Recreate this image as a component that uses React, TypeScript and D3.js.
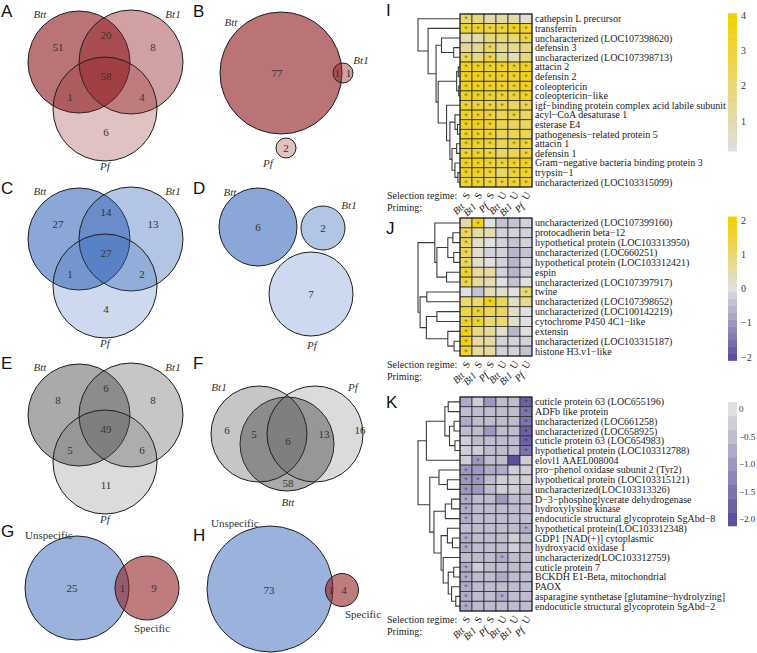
import React from "react";
import * as d3 from "d3";

type TreeNode = number | [number, TreeNode, TreeNode];

// ---------------- DATA ----------------
const primingLabels = ["Btt", "Bt1", "Pf", "Btt", "Bt1", "Pf"];
const regimeLabels = ["S", "S", "S", "U", "U", "U"];

const genesI = [
  "cathepsin L precursor",
  "transferrin",
  "uncharacterized (LOC107398620)",
  "defensin 3",
  "uncharacterized (LOC107398713)",
  "attacin 2",
  "defensin 2",
  "coleoptericin",
  "coleoptericin−like",
  "igf−binding protein complex acid labile subunit",
  "acyl−CoA desaturase 1",
  "esterase E4",
  "pathogenesis−related protein 5",
  "attacin 1",
  "defensin 1",
  "Gram−negative bacteria binding protein 3",
  "trypsin−1",
  "uncharacterized (LOC103315099)",
];
const valuesI: number[][] = [
  [2.2, 1.8, 1.0, 1.2, 1.0, 0.3],
  [3.2, 3.2, 3.0, 3.0, 3.6, 3.3],
  [1.0, 1.0, 1.8, 2.0, 2.0, 3.0],
  [1.5, 1.5, 2.5, 1.5, 1.5, 1.8],
  [2.5, 1.8, 2.8, 1.5, 0.8, 1.8],
  [3.4, 3.6, 3.3, 3.4, 3.2, 3.6],
  [3.5, 3.6, 3.2, 3.3, 3.2, 3.6],
  [3.5, 3.6, 3.2, 3.3, 3.2, 3.7],
  [3.4, 3.5, 3.1, 3.2, 3.0, 3.6],
  [3.2, 3.0, 2.8, 2.8, 2.4, 2.6],
  [3.3, 3.3, 3.0, 2.5, 2.9, 2.4],
  [3.4, 3.5, 3.2, 2.6, 2.5, 2.4],
  [3.3, 3.4, 3.1, 2.6, 2.5, 2.5],
  [3.4, 3.4, 3.1, 2.5, 3.0, 3.2],
  [3.3, 3.4, 3.0, 2.4, 2.6, 3.0],
  [3.4, 3.6, 3.2, 3.0, 3.2, 3.5],
  [3.2, 3.4, 3.0, 2.3, 3.0, 3.2],
  [3.3, 3.4, 3.0, 3.0, 3.1, 3.3],
];
const sigI = [
  "100000", "111111", "000001", "001000", "101000", "111111", "111111", "111111", "111111",
  "111101", "111010", "111000", "111000", "111011", "111001", "111111", "111011", "111111",
];
const treeI: TreeNode = [1.0, 0, [0.76, 1, [0.57, [0.44, 2, [0.15, 3, 4]],
  [0.52, [0.08, [0.04, 5, 6], [0.03, 7, 8]],
    [0.32, 9, [0.24, [0.12, 10, [0.06, 11, 12]], [0.19, [0.08, 13, 14], [0.12, 15, [0.05, 16, 17]]]]]]]]];

const genesJ = [
  "uncharacterized (LOC107399160)",
  "protocadherin beta−12",
  "hypothetical protein (LOC103313950)",
  "uncharacterized (LOC660251)",
  "hypothetical protein (LOC103312421)",
  "espin",
  "uncharacterized (LOC107397917)",
  "twine",
  "uncharacterized (LOC107398652)",
  "uncharacterized (LOC100142219)",
  "cytochrome P450 4C1−like",
  "extensin",
  "uncharacterized (LOC103315187)",
  "histone H3.v1−like",
];
const valuesJ: number[][] = [
  [0.5, 1.8, 0.0, -0.4, -0.5, -0.2],
  [1.2, 0.5, 0.4, -0.3, -0.3, -0.2],
  [1.2, 0.3, 0.0, -0.3, -0.4, -0.3],
  [1.2, 0.2, -0.3, -0.2, -0.6, -0.4],
  [1.2, 0.1, 0.0, -0.3, -0.7, -0.3],
  [1.5, 0.6, 0.6, -0.2, -0.6, -0.2],
  [1.4, 0.6, 0.4, 0.0, -0.5, 0.0],
  [0.0, -0.4, 0.4, 0.2, 0.0, 1.0],
  [1.0, 1.0, 1.8, 1.2, 0.3, 0.8],
  [1.3, 1.6, 1.2, 1.2, 0.2, 0.0],
  [1.5, 1.5, 1.0, 1.0, 0.3, 0.0],
  [1.7, 0.8, 0.6, 0.3, -0.6, -0.1],
  [1.7, 0.7, 0.5, -0.3, -0.3, -0.3],
  [1.6, 0.7, 0.7, -0.2, -0.2, -0.4],
];
const sigJ = [
  "010000", "100000", "100000", "100000", "100000", "100000", "100000",
  "000001", "001000", "010000", "110000", "100000", "100000", "100000",
];
const treeJ: TreeNode = [1.0,
  [0.6, 0, [0.55, [0.29, [0.17, 1, 2], [0.15, 3, 4]], [0.32, 5, 6]]],
  [0.95, [0.79, 7, 8], [0.8, [0.55, 9, 10], [0.29, 11, [0.14, 12, 13]]]]];

const genesK = [
  "cuticle protein 63 (LOC655196)",
  "ADFb like protein",
  "uncharacterized (LOC661258)",
  "uncharacterized (LOC658925)",
  "cuticle protein 63 (LOC654983)",
  "hypothetical protein (LOC103312788)",
  "elovl1 AAEL008004",
  "pro−phenol oxidase subunit 2 (Tyr2)",
  "hypothetical protein (LOC103315121)",
  "uncharacterized(LOC103313326)",
  "D−3−phosphoglycerate dehydrogenase",
  "hydroxylysine kinase",
  "endocuticle structural glycoprotein SgAbd−8",
  "hypothetical protein(LOC103312348)",
  "GDP1 [NAD(+)] cytoplasmic",
  "hydroxyacid oxidase 1",
  "uncharacterized(LOC103312759)",
  "cuticle protein 7",
  "BCKDH E1-Beta, mitochondrial",
  "PAOX",
  "asparagine synthetase [glutamine−hydrolyzing]",
  "endocuticle structural glycoprotein SgAbd−2",
];
const valuesK: number[][] = [
  [-0.8, -0.2, -0.9, -0.6, -0.5, -1.8],
  [-0.6, -0.5, -0.6, -0.4, -0.5, -1.6],
  [-0.8, -0.4, -0.5, -0.6, -0.6, -1.6],
  [-0.4, -0.4, -0.9, -0.5, -0.6, -1.7],
  [-0.3, -0.4, -0.5, -0.4, -0.5, -1.7],
  [-0.3, -0.2, -0.6, -0.4, -0.4, -1.5],
  [-0.3, -0.9, -0.6, -0.6, -1.9, -0.2],
  [-0.9, -1.0, -0.7, -0.8, -0.2, -0.3],
  [-1.0, -1.0, -0.6, -0.3, -0.2, -0.3],
  [-1.0, -1.1, -0.6, -0.3, -0.2, -0.4],
  [-0.8, -0.5, -0.6, -0.9, -0.5, -0.5],
  [-0.8, -0.5, -0.5, -0.6, -0.5, -0.5],
  [-0.7, -0.5, -0.4, -0.5, -0.5, -0.5],
  [-0.6, -0.5, -0.5, -0.5, -0.5, -0.8],
  [-0.7, -0.5, -0.5, -0.6, -0.2, -0.5],
  [-0.8, -0.5, -0.5, -0.6, -0.3, -0.5],
  [-0.4, -0.5, -0.5, -0.8, -0.5, -0.5],
  [-0.7, -0.2, -0.5, -0.6, -0.5, -0.6],
  [-0.8, -0.5, -0.5, -0.7, -0.5, -0.6],
  [-0.8, -0.5, -0.5, -0.6, -0.5, -0.6],
  [-0.8, -0.5, -0.4, -0.7, -0.5, -0.6],
  [-0.8, -0.5, -0.5, -0.6, -0.5, -0.6],
];
const sigK = [
  "000001", "000001", "000001", "000001", "000001", "000001", "010000", "100000", "110000",
  "100000", "100000", "100000", "100000", "000001", "100000", "100000", "000100", "100000",
  "100000", "100000", "100100", "100000",
];
const treeK: TreeNode = [1.0,
  [0.8, [0.36, [0.28, 0, 1], [0.25, [0.14, 2, 3], [0.12, 4, 5]]], 6],
  [0.72, [0.5, 7, [0.3, 8, 9]],
    [0.62, [0.35, [0.2, 10, 11], 12],
      [0.45, [0.3, 13, [0.18, 14, 15]], [0.4, 16, [0.28, [0.15, 17, 18], [0.2, 19, [0.1, 20, 21]]]]]]]];

const ticksI = [4, 3, 2, 1];
const tickLabelsI = ["4", "3", "2", "1"];
const ticksJ = [2, 1, 0, -1, -2];
const tickLabelsJ = ["2", "1", "0", "−1", "−2"];
const ticksK = [0, -0.5, -1, -1.5, -2];
const tickLabelsK = ["0", "−0.5", "−1.0", "−1.5", "−2.0"];

// Venn counts
const setNames = ["Btt", "Bt1", "Pf"];
const countsA = [51, 20, 8, 58, 1, 4, 6]; // Btt, Btt∩Bt1, Bt1, all, Btt∩Pf, Bt1∩Pf, Pf
const countsC = [27, 14, 13, 27, 1, 2, 4];
const countsE = [8, 6, 8, 49, 5, 6, 11];
const countsB = [77, 1, 1, 2]; // Btt, Btt∩Bt1, Bt1, Pf
const countsD = [6, 2, 7]; // Btt, Bt1, Pf
const countsF = [6, 5, 6, 13, 16, 58]; // Bt1, Bt1∩Btt, all, Pf∩Btt, Pf, Btt
const countsG = [25, 1, 9]; // Unspecific, both, Specific
const countsH = [73, 1, 4];
const specNames = ["Unspecific", "Specific"];

// ---------------- STYLE / LAYOUT ----------------
const SERIF = "'Liberation Serif', 'Times New Roman', serif";
const SANS = "'Liberation Sans', Arial, sans-serif";
const RED = "#8f1d22";
const BLUE = "#2b5fb6";
const GRAY = "#4d4d4d";
const OP = { red: [0.62, 0.42, 0.27], blue: [0.55, 0.36, 0.24], gray: [0.48, 0.32, 0.2] };

const HM_LEFT = 460;
const HM_RIGHT = 532;
const TREE_LEFT = 418;

const colorI = d3.scaleLinear<string>().domain([0.15, 4.05]).range(["#dedede", "#f3cf00"]).interpolate(d3.interpolateRgb);
const colorJ = d3.scaleLinear<string>().domain([-2, 0, 2]).range(["#5b4f9f", "#e0e0e0", "#f3d000"]).interpolate(d3.interpolateRgb);
const colorK = d3.scaleLinear<string>().domain([-2, 0]).range(["#5b4f9f", "#e0e0e0"]).interpolate(d3.interpolateRgb);

function quant(step: number) {
  return (v: number) => Math.round(v / step) * step;
}

function Heatmap(props: {
  genes: string[]; values: number[][]; sig: string[]; tree: TreeNode; top: number; bottom: number;
  color: (v: number) => string; q?: (v: number) => number;
}) {
  const { genes, values, sig, tree, top, bottom, color } = props;
  const q = props.q || ((v: number) => v);
  const x = d3.scaleBand<number>().domain(d3.range(6)).range([HM_LEFT, HM_RIGHT]);
  const y = d3.scaleBand<number>().domain(d3.range(genes.length)).range([top, bottom]);
  const hx = d3.scaleLinear().domain([0, 1]).range([HM_LEFT, TREE_LEFT]);
  const segs: string[] = [];
  const walk = (n: TreeNode): { y: number; h: number } => {
    if (typeof n === "number") return { y: (y(n) as number) + y.bandwidth() / 2, h: 0 };
    const [h, a, b] = n;
    const A = walk(a);
    const B = walk(b);
    const xn = hx(h);
    segs.push(`M${hx(A.h)},${A.y}H${xn}V${B.y}H${hx(B.h)}`);
    return { y: (A.y + B.y) / 2, h };
  };
  walk(tree);
  return (
    <g>
      <path d={segs.join("")} fill="none" stroke="#3c3c3c" strokeWidth={1.1} />
      {values.map((row, i) =>
        row.map((v, j) => {
          const fill = color(q(v));
          return (
            <g key={`${i}-${j}`}>
              <rect x={x(j)} y={y(i)} width={x.bandwidth()} height={y.bandwidth()} fill={fill} stroke="#2e2e2e" strokeWidth={0.8} />
              {sig[i][j] === "1" && (
                <text x={(x(j) as number) + x.bandwidth() / 2} y={(y(i) as number) + y.bandwidth() / 2 + 3.6}
                  textAnchor="middle" fontSize={9} fontFamily={SANS} fill={d3.color(fill)!.darker(1.6).toString()}>*</text>
              )}
            </g>
          );
        })
      )}
      <rect x={HM_LEFT} y={top} width={HM_RIGHT - HM_LEFT} height={bottom - top} fill="none" stroke="#222" strokeWidth={1} />
      {genes.map((g, i) => (
        <text key={g + i} x={HM_RIGHT + 3} y={(y(i) as number) + y.bandwidth() / 2} dy="0.35em" fontSize={10} fontFamily={SERIF} fill="#1a1a1a">{g}</text>
      ))}
      <text x={387} y={bottom + 11.5} fontSize={10} fontFamily={SERIF} fill="#1a1a1a">Selection regime:</text>
      <text x={387} y={bottom + 23.5} fontSize={10} fontFamily={SERIF} fill="#1a1a1a">Priming:</text>
      {regimeLabels.map((r, j) => {
        const cx = (x(j) as number) + x.bandwidth() / 2;
        return (
          <text key={"r" + j} transform={`translate(${cx},${bottom + 8.5}) rotate(-60)`} textAnchor="middle" dy="0.35em"
            fontSize={10} fontFamily={SERIF} fill="#1a1a1a">{r}</text>
        );
      })}
      {primingLabels.map((p, j) => {
        const cx = (x(j) as number) + x.bandwidth() / 2;
        return (
          <text key={"p" + j} transform={`translate(${cx - 1},${bottom + 20}) rotate(-45)`} textAnchor="end"
            fontSize={10} fontStyle="italic" fontFamily={SERIF} fill="#1a1a1a">{p}</text>
        );
      })}
    </g>
  );
}

function ColorBar(props: {
  domain: [number, number]; range: [number, number]; lo: number; hi: number; step: number;
  color: (v: number) => string; ticks: number[]; labels: string[]; labelX?: number; fs?: number;
}) {
  const { domain, range, lo, hi, step, color, ticks, labels } = props;
  const y = d3.scaleLinear().domain(domain).range(range);
  const n = Math.round((hi - lo) / step);
  const bands = d3.range(n).map((i) => lo + i * step);
  return (
    <g>
      {bands.map((b, i) => (
        <rect key={i} x={728} y={y(b + step)} width={9} height={y(b) - y(b + step) + 0.4} fill={color(b + step / 2)} />
      ))}
      {ticks.map((t, i) => (
        <text key={i} x={props.labelX || 741} y={y(t)} dy="0.35em" fontSize={props.fs || 10} fontFamily={SERIF} fill="#333">{labels[i]}</text>
      ))}
    </g>
  );
}

function Num(props: { x: number; y: number; t: string | number; italic?: boolean; anchor?: string }) {
  return (
    <text x={props.x} y={props.y} dy="0.35em" textAnchor={props.anchor || "middle"} fontSize={11}
      fontStyle={props.italic ? "italic" : "normal"} fontFamily={SERIF} fill="#333">{props.t}</text>
  );
}

function Circle(props: { cx: number; cy: number; r: number; fill: string; op: number }) {
  return <circle cx={props.cx} cy={props.cy} r={props.r} fill={props.fill} fillOpacity={props.op} stroke="#1e1e1e" strokeWidth={1} />;
}

// three-set Venn (A, C, E share one layout)
function Venn3(props: { cx: number; cy: number; counts: number[]; base: string; ops: number[] }) {
  const { cx, cy, counts, base, ops } = props;
  const off = [[-47, -15], [1, -27], [48, -15], [1, 14], [-35, 35], [37, 35], [1, 70]];
  return (
    <g>
      <Circle cx={cx - 26} cy={cy} r={51} fill={base} op={ops[0]} />
      <Circle cx={cx + 26} cy={cy} r={52} fill={base} op={ops[1]} />
      <Circle cx={cx} cy={cy + 47} r={52} fill={base} op={ops[2]} />
      {counts.map((c, i) => <Num key={i} x={cx + off[i][0]} y={cy + off[i][1]} t={c} />)}
      <Num x={cx - 65} y={cy - 48} t={setNames[0]} italic />
      <Num x={cx + 68} y={cy - 48} t={setNames[1]} italic />
      <Num x={cx} y={cy + 104} t={setNames[2]} italic />
    </g>
  );
}

function Letter(props: { x: number; y: number; t: string }) {
  return <text x={props.x} y={props.y} fontSize={17} fontFamily={SANS} fill="#111">{props.t}</text>;
}

export default function App() {
  return (
    <svg width={757} height={653} style={{ position: "absolute", left: 0, top: 0, background: "#fff" }}>
      <rect width={757} height={653} fill="#fff" />
      {/* A */}
      <Letter x={1} y={17} t="A" />
      <Venn3 cx={105} cy={62} counts={countsA} base={RED} ops={OP.red} />
      {/* B */}
      <Letter x={193} y={17} t="B" />
      <Circle cx={281} cy={73} r={61} fill={RED} op={OP.red[0]} />
      <Circle cx={343} cy={73} r={10} fill={RED} op={OP.red[1]} />
      <Circle cx={286} cy={148} r={10} fill={RED} op={OP.red[2]} />
      <Num x={277} y={73} t={countsB[0]} />
      <Num x={337.5} y={73} t={countsB[1]} />
      <Num x={348.5} y={73} t={countsB[2]} />
      <Num x={286} y={148} t={countsB[3]} />
      <Num x={231} y={22} t={setNames[0]} italic />
      <Num x={361} y={60} t={setNames[1]} italic />
      <Num x={268} y={163} t={setNames[2]} italic />
      {/* C */}
      <Letter x={1} y={194} t="C" />
      <Venn3 cx={105} cy={239} counts={countsC} base={BLUE} ops={OP.blue} />
      {/* D */}
      <Letter x={193} y={194} t="D" />
      <Circle cx={258} cy={227} r={39} fill={BLUE} op={OP.blue[0]} />
      <Circle cx={323} cy={228} r={22} fill={BLUE} op={OP.blue[1]} />
      <Circle cx={311} cy={294} r={42} fill={BLUE} op={OP.blue[2]} />
      <Num x={258} y={227} t={countsD[0]} />
      <Num x={323} y={228} t={countsD[1]} />
      <Num x={311} y={294} t={countsD[2]} />
      <Num x={230} y={192} t={setNames[0]} italic />
      <Num x={349} y={205} t={setNames[1]} italic />
      <Num x={312} y={345} t={setNames[2]} italic />
      {/* E */}
      <Letter x={1} y={369} t="E" />
      <Venn3 cx={105} cy={415} counts={countsE} base={GRAY} ops={OP.gray} />
      {/* F */}
      <Letter x={193} y={369} t="F" />
      <Circle cx={287} cy={444} r={47} fill={GRAY} op={OP.gray[0]} />
      <Circle cx={259} cy={434} r={48} fill={GRAY} op={OP.gray[1]} />
      <Circle cx={315} cy={434} r={48} fill={GRAY} op={OP.gray[2]} />
      <Num x={227} y={430} t={countsF[0]} />
      <Num x={254} y={434} t={countsF[1]} />
      <Num x={288} y={441} t={countsF[2]} />
      <Num x={324} y={434} t={countsF[3]} />
      <Num x={360} y={430} t={countsF[4]} />
      <Num x={288} y={483} t={countsF[5]} />
      <Num x={219} y={387} t={setNames[1]} italic />
      <Num x={353} y={387} t={setNames[2]} italic />
      <Num x={288} y={502} t={setNames[0]} italic />
      {/* G */}
      <Letter x={1} y={537} t="G" />
      <Circle cx={77} cy={588} r={52} fill={BLUE} op={0.48} />
      <Circle cx={147} cy={588} r={32} fill={RED} op={0.58} />
      <Num x={72} y={588} t={countsG[0]} />
      <Num x={122.5} y={588} t={countsG[1]} />
      <Num x={154} y={588} t={countsG[2]} />
      <Num x={25} y={535} t={specNames[0]} anchor="start" />
      <Num x={152} y={628} t={specNames[1]} />
      {/* H */}
      <Letter x={193} y={541} t="H" />
      <Circle cx={270} cy={589} r={63} fill={BLUE} op={0.48} />
      <Circle cx={342} cy={590} r={16.5} fill={RED} op={0.58} />
      <Num x={269} y={590} t={countsH[0]} />
      <Num x={331} y={590} t={countsH[1]} />
      <Num x={344} y={590} t={countsH[2]} />
      <Num x={211} y={523} t={specNames[0]} anchor="start" />
      <Num x={345} y={614} t={specNames[1]} anchor="start" />

      {/* I */}
      <Letter x={386} y={16} t="I" />
      <Heatmap genes={genesI} values={valuesI} sig={sigI} tree={treeI} top={14} bottom={187} color={colorI} />
      <ColorBar domain={[4, 1]} range={[15, 121]} lo={0.15} hi={4.05} step={0.05} color={colorI} ticks={ticksI} labels={tickLabelsI} />
      {/* J */}
      <Letter x={386} y={234} t="J" />
      <Heatmap genes={genesJ} values={valuesJ} sig={sigJ} tree={treeJ} top={218} bottom={356} color={colorJ} q={quant(0.2)} />
      <ColorBar domain={[2, -2]} range={[220, 357]} lo={-2.1} hi={2.1} step={0.2} color={colorJ} ticks={ticksJ} labels={tickLabelsJ} />
      {/* K */}
      <Letter x={386} y={408} t="K" />
      <Heatmap genes={genesK} values={valuesK} sig={sigK} tree={treeK} top={397} bottom={611} color={colorK} q={quant(0.25)} />
      <ColorBar domain={[0, -2]} range={[409, 519]} lo={-2.125} hi={0.125} step={0.25} color={colorK} ticks={ticksK} labels={tickLabelsK} labelX={739} fs={9} />
    </svg>
  );
}
